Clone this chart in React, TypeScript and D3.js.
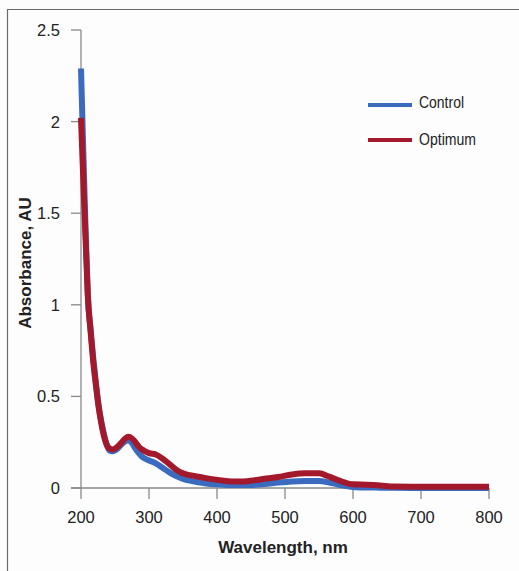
import React from "react";
import * as d3 from "d3";

const wavelengths = [200, 202, 204, 206, 208, 210, 214, 218, 222, 226, 230, 234, 238, 242, 246, 250, 255, 260, 265, 270, 275, 280, 285, 290, 300, 310, 320, 330, 340, 350, 360, 375, 390, 410, 430, 450, 470, 490, 510, 530, 550, 565, 580, 600, 620, 640, 660, 700, 750, 800];
const controlValues = [2.29, 2.02, 1.76, 1.5, 1.27, 1.06, 0.87, 0.71, 0.57, 0.45, 0.36, 0.29, 0.235, 0.205, 0.2, 0.205, 0.22, 0.24, 0.255, 0.26, 0.245, 0.215, 0.19, 0.17, 0.15, 0.135, 0.11, 0.085, 0.065, 0.05, 0.04, 0.03, 0.022, 0.018, 0.016, 0.017, 0.022, 0.03, 0.036, 0.038, 0.038, 0.03, 0.018, 0.006, 0.003, 0.002, 0.001, 0.0, 0.0, 0.0];
const optimumValues = [2.02, 1.82, 1.62, 1.43, 1.24, 1.05, 0.86, 0.69, 0.56, 0.44, 0.35, 0.28, 0.235, 0.215, 0.21, 0.215, 0.23, 0.25, 0.27, 0.28, 0.27, 0.25, 0.225, 0.21, 0.19, 0.183, 0.16, 0.13, 0.1, 0.08, 0.07, 0.06, 0.05, 0.04, 0.035, 0.04, 0.05, 0.06, 0.074, 0.08, 0.08, 0.062, 0.04, 0.02, 0.018, 0.014, 0.008, 0.007, 0.007, 0.007];
const xTicks = [200, 300, 400, 500, 600, 700, 800];
const yTicks = [0, 0.5, 1, 1.5, 2, 2.5];
const seriesNames = ["Control", "Optimum"];
const seriesColors = ["#3a6bbf", "#a3182b"];

export default function App() {
  const x = d3.scaleLinear().domain([200, 800]).range([81, 489]);
  const y = d3.scaleLinear().domain([0, 2.5]).range([488, 30]);
  const line = d3
    .line<[number, number]>()
    .x((d) => x(d[0]))
    .y((d) => y(d[1]))
    .curve(d3.curveMonotoneX);
  const series = [controlValues, optimumValues].map((vals) =>
    wavelengths.map((w, i) => [w, vals[i]] as [number, number])
  );
  const font = "'Liberation Sans', Arial, sans-serif";
  const fmt = (v: number) => (v === 0 ? "0" : String(v));
  const legendWidths = [45, 57];
  return (
    <svg
      width={519}
      height={571}
      style={{ position: "absolute", left: 0, top: 0, background: "#fdfdfd" }}
      fontFamily={font}
    >
      <path d="M7.5,571 L7.5,9.5 L519,9.5" fill="none" stroke="#6a6a6a" strokeWidth={1.2} />
      {/* axes */}
      <line x1={x(200)} x2={x(200)} y1={y(2.5)} y2={y(0)} stroke="#8a8a8a" strokeWidth={1.3} />
      <line x1={71} x2={x(800)} y1={y(0)} y2={y(0)} stroke="#8a8a8a" strokeWidth={1.3} />
      {yTicks.map((t) => (
        <g key={"y" + t}>
          <line x1={71} x2={x(200)} y1={y(t)} y2={y(t)} stroke="#8a8a8a" strokeWidth={1.3} />
          <text x={60} y={y(t)} dy="0.36em" textAnchor="end" fontSize={16.5} fill="#222">
            {fmt(t)}
          </text>
        </g>
      ))}
      {xTicks.map((t) => (
        <g key={"x" + t}>
          <line x1={x(t)} x2={x(t)} y1={y(0)} y2={y(0) + 11} stroke="#8a8a8a" strokeWidth={1.3} />
          <text x={x(t)} y={523} textAnchor="middle" fontSize={16.5} fill="#222">
            {t}
          </text>
        </g>
      ))}
      {series.map((s, i) => (
        <path key={i} d={line(s) || ""} fill="none" stroke={seriesColors[i]} strokeWidth={6} strokeLinejoin="round" />
      ))}
      {/* legend */}
      {seriesNames.map((n, i) => (
        <g key={n}>
          <line x1={368} x2={412} y1={105 + i * 35} y2={105 + i * 35} stroke={seriesColors[i]} strokeWidth={4} />
          <text
            x={419}
            y={102 + i * 37}
            dy="0.36em"
            fontSize={16}
            fill="#222"
            textLength={legendWidths[i]}
            lengthAdjust="spacingAndGlyphs"
          >
            {n}
          </text>
        </g>
      ))}
      <text x={283} y={553} textAnchor="middle" fontSize={17} fontWeight="bold" fill="#222">
        Wavelength, nm
      </text>
      <text
        transform={`translate(31,263) rotate(-90)`}
        textAnchor="middle"
        fontSize={17}
        fontWeight="bold"
        fill="#222"
      >
        Absorbance, AU
      </text>
    </svg>
  );
}
